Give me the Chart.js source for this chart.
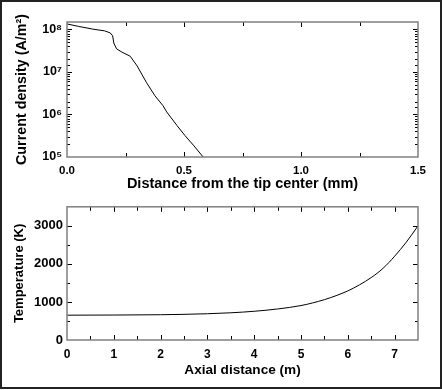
<!DOCTYPE html>
<html>
<head>
<meta charset="utf-8">
<script src="https://cdn.jsdelivr.net/npm/chart.js@4"></script>
<style>
  body { margin: 0; background: #fff; }
  .box { position: absolute; left: 0; width: 442px; height: 195px; }
  #frame { position: absolute; left: 0; top: 0; width: 438px; height: 385px; border: 2px solid #222; pointer-events: none; }
</style>
</head>
<body>
<div class="box" style="top:0"><canvas id="currentDensity"></canvas></div>
<div class="box" style="top:195px"><canvas id="temperature"></canvas></div>
<div id="frame"></div>
<script>
// top panel: current density along the tip surface
const distanceMm = [0, 0.05, 0.11, 0.16, 0.185, 0.195, 0.2, 0.212, 0.234, 0.27, 0.30, 0.34, 0.376, 0.41, 0.426, 0.47, 0.504, 0.54, 0.582];
const currentDensity = [1.35e8, 1.18e8, 1.02e8, 9.3e7, 8.3e7, 7.1e7, 4.8e7, 3.5e7, 2.95e7, 2.35e7, 1.38e7, 5.6e6, 2.75e6, 1.62e6, 1.15e6, 5.5e5, 3.2e5, 1.9e5, 1.0e5];

// bottom panel: temperature along the axis
const axialM = [0, 1, 2, 3, 3.5, 4, 4.5, 5, 5.25, 5.5, 5.75, 6, 6.25, 6.5, 6.75, 7, 7.25, 7.5];
const temperatureK = [652, 656, 664, 690, 715, 755, 815, 905, 975, 1060, 1165, 1290, 1450, 1640, 1880, 2200, 2570, 3000];

const SUP = { '0': '⁰', '1': '¹', '2': '²', '3': '³', '4': '⁴', '5': '⁵', '6': '⁶', '7': '⁷', '8': '⁸', '9': '⁹' };
const FONT = '"Liberation Sans", Arial, Helvetica, sans-serif';

// ticks pointing inward on all four sides, plus the grey frame
const innerTicks = {
  id: 'innerTicks',
  afterDatasetsDraw(chart, args, opts) {
    const { ctx, chartArea: a, scales } = chart;
    ctx.save();
    ctx.strokeStyle = '#000';
    ctx.lineWidth = 1;
    ctx.beginPath();
    scales.x.ticks.forEach((t) => {
      const px = Math.round(scales.x.getPixelForValue(t.value)) + 0.5;
      if (px < a.left + 1 || px > a.right - 1) return;
      const len = t.label === '' ? opts.minorX : opts.major;
      ctx.moveTo(px, a.bottom); ctx.lineTo(px, a.bottom - len);
      ctx.moveTo(px, a.top); ctx.lineTo(px, a.top + len);
    });
    scales.y.ticks.forEach((t) => {
      const py = Math.round(scales.y.getPixelForValue(t.value)) + 0.5;
      if (py < a.top + 1 || py > a.bottom - 1) return;
      const len = t.label === '' ? opts.minorY : opts.major;
      ctx.moveTo(a.left, py); ctx.lineTo(a.left + len, py);
      ctx.moveTo(a.right, py); ctx.lineTo(a.right - len, py);
    });
    ctx.stroke();
    ctx.strokeStyle = '#808080';
    ctx.lineWidth = 1.5;
    ctx.strokeRect(a.left, a.top, a.width, a.height);
    ctx.restore();
  }
};

const baseAxis = (title, titleSize, titlePad, tickSize, tickPad) => ({
  grid: { display: false, drawTicks: false },
  border: { display: false },
  title: {
    display: true,
    text: title,
    color: '#000',
    font: { family: FONT, size: titleSize, weight: 'bold' },
    padding: titlePad
  },
  ticks: {
    color: '#000',
    autoSkip: false,
    maxRotation: 0,
    padding: tickPad,
    font: { family: FONT, size: tickSize, weight: 'bold' }
  }
});

const renderCurrentDensity = () => {
  const ctx = document.getElementById('currentDensity');
  const x = baseAxis('Distance from the tip center (mm)', 14.5, { top: 0, bottom: 2 }, 11.5, 7);
  Object.assign(x, { type: 'linear', min: 0, max: 1.5 });
  Object.assign(x.ticks, {
    stepSize: 0.25,
    callback: (v) => (Math.abs(v * 2 - Math.round(v * 2)) < 1e-6 ? v.toFixed(1) : '')
  });
  x.afterFit = (s) => { s.height = 38; };

  const y = baseAxis('Current density (A/m²)', 14.3, { top: 13, bottom: 0 }, 12.5, 5);
  Object.assign(y, { type: 'logarithmic', min: 1e5, max: 1.5e8 });
  Object.assign(y.ticks, {
    callback: (v) => {
      const e = Math.log10(v);
      if (Math.abs(e - Math.round(e)) > 1e-6) return '';
      return '10' + String(Math.round(e)).split('').map((c) => SUP[c]).join('');
    }
  });
  y.afterFit = (s) => { s.width = 67; };

  new Chart(ctx, {
    type: 'line',
    data: {
      datasets: [{
        data: distanceMm.map((d, i) => ({ x: d, y: currentDensity[i] })),
        borderColor: '#000',
        borderWidth: 1,
        pointRadius: 0,
        tension: 0
      }]
    },
    options: {
      responsive: true,
      maintainAspectRatio: false,
      animation: false,
      layout: { padding: { left: 0, right: 24, top: 22, bottom: 0 } },
      plugins: {
        legend: { display: false },
        tooltip: { enabled: false },
        innerTicks: { major: 5, minorX: 4, minorY: 3 }
      },
      scales: { x: x, y: y }
    },
    plugins: [innerTicks]
  });
};

const renderTemperature = () => {
  const ctx = document.getElementById('temperature');
  const x = baseAxis('Axial distance (m)', 13.6, { top: 0, bottom: 12 }, 12, 7);
  Object.assign(x, { type: 'linear', min: 0, max: 7.5 });
  Object.assign(x.ticks, {
    stepSize: 0.5,
    callback: (v) => (Number.isInteger(v) ? String(v) : '')
  });
  x.afterFit = (s) => { s.height = 50; };

  const y = baseAxis('Temperature (K)', 13, { top: 12, bottom: 0 }, 13, 4);
  Object.assign(y, { type: 'linear', min: 0, max: 3500 });
  Object.assign(y.ticks, {
    stepSize: 500,
    callback: (v) => (v % 1000 === 0 ? String(v) : '')
  });
  y.afterFit = (s) => { s.width = 67; };

  new Chart(ctx, {
    type: 'line',
    data: {
      datasets: [{
        data: axialM.map((d, i) => ({ x: d, y: temperatureK[i] })),
        borderColor: '#000',
        borderWidth: 1,
        pointRadius: 0,
        cubicInterpolationMode: 'monotone'
      }]
    },
    options: {
      responsive: true,
      maintainAspectRatio: false,
      animation: false,
      layout: { padding: { left: 0, right: 24, top: 9, bottom: 0 } },
      plugins: {
        legend: { display: false },
        tooltip: { enabled: false },
        innerTicks: { major: 5, minorX: 4, minorY: 3 }
      },
      scales: { x: x, y: y }
    },
    plugins: [innerTicks]
  });
};

window.onload = () => {
  renderCurrentDensity();
  renderTemperature();
};
</script>
</body>
</html>
